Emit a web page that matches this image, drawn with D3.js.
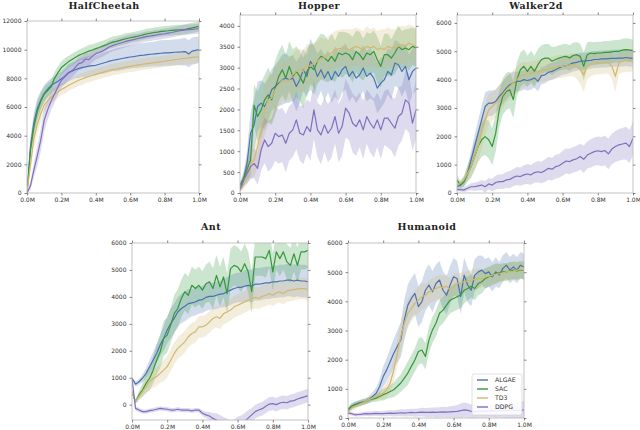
<!DOCTYPE html>
<html>
<head>
<meta charset="utf-8">
<script src="https://cdnjs.cloudflare.com/ajax/libs/d3/7.8.5/d3.min.js"></script>
<style>
  body { margin: 0; background: #fff; }
  .tick text { font-family: "DejaVu Sans", sans-serif; font-size: 6px; fill: #333; }
  .tick line { stroke: #555; stroke-width: 0.7; }
</style>
</head>
<body>
<svg id="chart"></svg>
<script>

// environment steps (in millions)
var steps = [0, 0.02, 0.04, 0.06, 0.08, 0.1, 0.12, 0.14, 0.16, 0.18, 0.2, 0.22, 0.24, 0.26, 0.28, 0.3, 0.32, 0.34, 0.36, 0.38,
             0.4, 0.42, 0.44, 0.46, 0.48, 0.5, 0.52, 0.54, 0.56, 0.58, 0.6, 0.62, 0.64, 0.66, 0.68, 0.7, 0.72, 0.74, 0.76, 0.78,
             0.8, 0.82, 0.84, 0.86, 0.88, 0.9, 0.92, 0.94, 0.96, 0.98, 1.0];
var xTicks = [0, 0.2, 0.4, 0.6, 0.8, 1.0];
var algorithms = ["ALGAE", "SAC", "TD3", "DDPG"];
var colors = ["#4c72b0", "#34983a", "#d1b86f", "#7f6fbd"];

// HalfCheetah
var hcAlgae = [0, 3200, 4900, 5900, 6470, 6940, 7250, 7500, 7650, 7800, 7980, 8150, 8400, 8500, 8600, 8680, 8750, 8800, 8850, 8880,
               8910, 8980, 9050, 9120, 9200, 9260, 9300, 9350, 9400, 9450, 9490, 9520, 9560, 9600, 9620, 9650, 9680, 9700, 9730, 9750,
               9770, 9780, 9800, 9820, 9830, 9840, 9870, 9700, 9900, 9950, 10000];
var hcSac = [0, 3000, 4600, 5700, 6400, 6900, 7150, 7400, 8000, 8400, 8750, 8950, 9150, 9300, 9450, 9600, 9700, 9800, 9900, 9980,
             10070, 10150, 10250, 10330, 10450, 10530, 10580, 10650, 10720, 10780, 10830, 10880, 10930, 10990, 11050, 11110, 11150, 11200, 11230, 11270,
             11300, 11320, 11350, 11370, 11380, 11390, 11420, 11470, 11520, 11570, 11620];
var hcTd3 = [0, 2000, 3800, 4800, 5550, 6130, 6450, 6700, 6880, 7050, 7220, 7350, 7500, 7620, 7750, 7870, 7950, 8050, 8130, 8200,
             8280, 8350, 8420, 8480, 8550, 8610, 8650, 8700, 8750, 8800, 8840, 8880, 8920, 8960, 9000, 9030, 9060, 9100, 9130, 9160,
             9190, 9230, 9260, 9300, 9330, 9370, 9400, 9430, 9460, 9480, 9490];
var hcDdpg = [0, 500, 1600, 2600, 3690, 5080, 5800, 6400, 6900, 7400, 7870, 8100, 8350, 8500, 8750, 9030, 9100, 9350, 9300, 9550,
              9720, 9800, 9900, 10050, 10200, 10300, 10380, 10450, 10520, 10600, 10650, 10700, 10760, 10820, 10880, 10930, 10960, 11000, 11040, 11080,
              11110, 11160, 11200, 11250, 11300, 11350, 11380, 11400, 11420, 11440, 11460];
var hcAlgaeSd = [0, 700, 700, 700, 650, 600, 550, 500, 500, 500, 500, 550, 600, 600, 600, 650, 650, 700, 700, 700,
                 700, 700, 750, 750, 750, 750, 800, 800, 800, 800, 800, 800, 850, 850, 850, 850, 850, 850, 900, 900,
                 900, 900, 900, 900, 900, 950, 950, 950, 950, 950, 900];
var hcSacSd = [0, 600, 700, 700, 600, 500, 500, 450, 450, 450, 450, 450, 400, 420, 400, 380, 400, 400, 420, 400,
               400, 400, 380, 380, 380, 400, 380, 380, 380, 380, 350, 350, 360, 350, 350, 360, 350, 350, 350, 350,
               350, 350, 360, 350, 350, 350, 350, 350, 350, 350, 350];
var hcTd3Sd = [0, 600, 700, 650, 600, 500, 450, 450, 450, 400, 400, 400, 400, 400, 400, 400, 420, 400, 400, 400,
               400, 400, 400, 400, 420, 400, 400, 400, 400, 400, 400, 420, 400, 400, 400, 400, 400, 400, 400, 400,
               400, 400, 400, 420, 400, 400, 450, 450, 450, 450, 450];
var hcDdpgSd = [0, 300, 500, 700, 800, 800, 700, 650, 600, 550, 500, 500, 500, 450, 450, 450, 450, 450, 450, 450,
                400, 400, 400, 400, 400, 400, 400, 400, 400, 400, 400, 400, 350, 350, 350, 350, 350, 350, 350, 350,
                350, 350, 350, 350, 350, 350, 350, 350, 350, 350, 350];

// Hopper
var hopAlgae = [110, 310, 710, 1430, 1630, 2070, 2150, 2070, 2230, 2470, 2550, 2630, 2710, 2750, 2710, 2750, 2550, 2710, 2950, 2790,
                3150, 3030, 2790, 2950, 2750, 2910, 2710, 2910, 2790, 2950, 3030, 2790, 2910, 2750, 2830, 2990, 2790, 2870, 2750, 2510,
                2630, 2710, 2910, 2830, 3110, 3070, 2910, 3030, 2710, 2910, 2990];
var hopSac = [190, 350, 550, 790, 2100, 1830, 1990, 2230, 2350, 2230, 2510, 2790, 2950, 2750, 3030, 2790, 2910, 2790, 2630, 2910,
              3030, 2950, 3150, 3270, 3230, 3150, 3270, 3150, 3350, 3310, 3350, 3310, 3190, 3390, 3310, 3190, 3350, 3310, 3390, 3190,
              3030, 3310, 3310, 3230, 3350, 3510, 3430, 3470, 3430, 3510, 3470];
var hopTd3 = [70, 190, 470, 710, 790, 1110, 1510, 1990, 2230, 2270, 2470, 2590, 2710, 2670, 2710, 2830, 2910, 2950, 2910, 3070,
              3030, 3110, 3150, 3230, 3230, 3310, 3350, 3430, 3450, 3470, 3470, 3430, 3470, 3510, 3470, 3430, 3510, 3470, 3510, 3430,
              3470, 3430, 3510, 3470, 3470, 3510, 3550, 3510, 3590, 3550, 3510];
var hopDdpg = [70, 310, 470, 630, 710, 590, 1030, 1270, 1110, 1190, 1430, 1350, 1390, 1190, 1430, 1510, 1750, 1430, 1390, 1590,
               1470, 1990, 1510, 1390, 1630, 1430, 1550, 1830, 1430, 1590, 2030, 1910, 1670, 1590, 1750, 1510, 1830, 1670, 1550, 1750,
               1510, 1790, 1790, 1670, 1550, 1830, 1910, 2230, 2150, 1670, 1990];
var hopAlgaeSd = [60, 150, 300, 500, 600, 600, 550, 550, 500, 500, 500, 550, 600, 600, 550, 550, 600, 550, 500, 500,
                  550, 500, 550, 500, 550, 500, 550, 600, 600, 550, 550, 600, 600, 600, 550, 550, 600, 600, 550, 600,
                  600, 550, 550, 600, 550, 550, 600, 550, 600, 550, 550];
var hopSacSd = [60, 150, 250, 400, 500, 600, 650, 600, 650, 600, 650, 600, 600, 550, 600, 650, 600, 600, 600, 550,
                550, 600, 550, 550, 550, 500, 550, 500, 500, 550, 500, 500, 550, 500, 550, 500, 500, 500, 500, 550,
                500, 500, 500, 450, 500, 500, 450, 450, 500, 450, 450];
var hopTd3Sd = [40, 120, 250, 350, 400, 500, 550, 600, 600, 550, 550, 550, 500, 500, 500, 500, 500, 500, 500, 500,
                500, 500, 500, 500, 450, 450, 450, 450, 450, 450, 450, 480, 450, 450, 450, 450, 480, 450, 450, 450,
                450, 480, 450, 450, 450, 450, 450, 480, 450, 450, 450];
var hopDdpgSd = [40, 150, 250, 300, 350, 400, 500, 550, 600, 600, 650, 650, 650, 700, 650, 650, 700, 650, 700, 650,
                 700, 700, 650, 700, 650, 700, 700, 650, 700, 700, 700, 650, 700, 700, 650, 700, 650, 700, 700, 650,
                 700, 650, 700, 650, 700, 700, 650, 700, 700, 650, 700];

// Walker2d
var wlkAlgae = [220, 280, 400, 700, 1170, 1640, 2110, 2580, 3050, 3170, 3170, 3230, 3410, 3530, 3700, 3820, 3880, 3940, 3940, 4000,
                3970, 4000, 4060, 3940, 4140, 4170, 4260, 4290, 4350, 4410, 4470, 4490, 4530, 4590, 4610, 4650, 4650, 4670, 4680, 4710,
                4710, 4730, 4730, 4740, 4750, 4750, 4760, 4760, 4780, 4760, 4760];
var wlkSac = [460, 280, 400, 700, 930, 1290, 1640, 1880, 1990, 1880, 1640, 2110, 2940, 3410, 3580, 3640, 3290, 4000, 4350, 4470,
              4290, 4470, 4290, 4530, 4710, 4760, 4760, 4650, 4710, 4760, 4800, 4820, 4760, 4850, 4880, 4820, 4470, 4880, 4940, 4920,
              4940, 4940, 4960, 4960, 4980, 5000, 5000, 5040, 5060, 5040, 5020];
var wlkTd3 = [280, 340, 460, 700, 930, 1290, 1640, 2110, 2580, 2940, 3050, 3170, 3290, 3470, 3640, 3760, 3880, 4000, 4120, 4170,
              4210, 4230, 4260, 4290, 4320, 4350, 4370, 4410, 4430, 4470, 4470, 4490, 4520, 4530, 4470, 4350, 4170, 4470, 4530, 4560,
              4590, 4590, 4610, 4610, 4470, 4120, 4590, 4650, 4680, 4650, 4710];
var wlkDdpg = [130, 110, 110, 170, 220, 220, 250, 280, 220, 320, 280, 370, 400, 400, 460, 480, 550, 600, 580, 640,
               670, 640, 720, 750, 720, 790, 870, 840, 930, 960, 1050, 1130, 1110, 1170, 1210, 1290, 1190, 1340, 1400, 1460,
               1490, 1460, 1500, 1380, 1550, 1640, 1700, 1730, 1760, 1640, 1930];
var wlkAlgaeSd = [100, 100, 150, 200, 300, 400, 450, 500, 500, 450, 450, 400, 400, 400, 400, 400, 400, 350, 350, 350,
                  350, 350, 350, 350, 300, 300, 300, 300, 300, 300, 300, 300, 300, 300, 300, 300, 300, 300, 300, 300,
                  300, 300, 300, 300, 300, 300, 300, 300, 300, 300, 300];
var wlkSacSd = [150, 150, 200, 300, 400, 500, 550, 600, 650, 650, 650, 650, 650, 650, 650, 650, 650, 600, 600, 600,
                550, 550, 550, 550, 500, 500, 500, 500, 450, 450, 450, 450, 450, 450, 450, 450, 500, 450, 400, 400,
                400, 400, 400, 400, 400, 400, 400, 400, 400, 400, 400];
var wlkTd3Sd = [100, 100, 150, 250, 350, 450, 500, 550, 550, 550, 500, 500, 500, 500, 450, 450, 450, 450, 450, 450,
                400, 400, 400, 400, 400, 400, 400, 400, 400, 400, 400, 400, 400, 400, 450, 500, 600, 450, 400, 400,
                400, 400, 400, 400, 450, 550, 400, 400, 400, 400, 400];
var wlkDdpgSd = [60, 60, 80, 100, 120, 150, 150, 180, 200, 200, 220, 250, 250, 260, 280, 300, 300, 320, 320, 340,
                 350, 350, 360, 380, 380, 400, 400, 400, 420, 420, 440, 440, 450, 450, 460, 460, 480, 480, 500, 500,
                 500, 520, 520, 540, 540, 550, 560, 560, 580, 580, 600];

// Ant
var antAlgae = [980, 760, 850, 980, 1160, 1410, 1650, 1900, 2210, 2460, 2770, 3010, 3200, 3440, 3570, 3650, 3750, 3780, 3810, 3880,
                3900, 3980, 4020, 4020, 4060, 4100, 4120, 4190, 4250, 4310, 4350, 4350, 4400, 4430, 4400, 4470, 4470, 4490, 4520, 4520,
                4560, 4560, 4590, 4590, 4620, 4620, 4590, 4620, 4590, 4590, 4560];
var antSac = [480, 110, 360, 540, 790, 980, 1280, 1650, 1960, 2460, 2580, 2950, 3380, 3570, 3940, 4190, 4060, 4430, 4310, 4430,
              4250, 4490, 4560, 4310, 4800, 4370, 4740, 4120, 5050, 5170, 5110, 4930, 5230, 4930, 4190, 5480, 5480, 5480, 5420, 5730,
              4930, 5670, 5420, 5670, 5300, 5170, 5600, 5170, 5670, 5670, 5730];
var antTd3 = [480, 110, 300, 480, 670, 850, 980, 1040, 1160, 1280, 1410, 1650, 1900, 2090, 2210, 2330, 2520, 2640, 2700, 2890,
              2890, 2950, 3070, 3200, 3260, 3200, 3380, 3440, 3510, 3630, 3690, 3750, 3810, 3880, 3940, 3980, 3940, 4020, 4060, 4120,
              4060, 4150, 4190, 4120, 4220, 4250, 4270, 4300, 4310, 4310, 4270];
var antDdpg = [980, -140, -200, -260, -260, -220, -200, -170, -140, -160, -170, -200, -200, -170, -200, -200, -200, -230, -200, -200,
               -320, -380, -420, -510, -570, -680, -760, -820, -880, -850, -750, -700, -620, -500, -380, -260, -200, -150, -60, 20,
               40, 0, 60, 90, 70, 130, 150, 210, 250, 290, 340];
var antAlgaeSd = [50, 100, 100, 150, 200, 250, 300, 350, 400, 450, 500, 550, 550, 550, 550, 550, 550, 500, 500, 500,
                  500, 500, 500, 500, 500, 500, 500, 550, 550, 550, 550, 550, 600, 600, 600, 600, 600, 600, 600, 600,
                  600, 600, 600, 600, 600, 600, 600, 600, 600, 600, 600];
var antSacSd = [50, 80, 150, 250, 350, 450, 500, 550, 600, 650, 650, 650, 700, 700, 700, 700, 700, 700, 700, 700,
                700, 700, 750, 750, 750, 750, 750, 750, 750, 750, 750, 750, 750, 750, 800, 700, 700, 700, 700, 650,
                700, 650, 650, 650, 650, 650, 650, 650, 650, 650, 650];
var antTd3Sd = [50, 80, 150, 200, 250, 300, 350, 350, 350, 400, 400, 400, 400, 400, 400, 400, 400, 400, 400, 400,
                400, 400, 400, 400, 400, 400, 400, 400, 400, 400, 400, 400, 400, 400, 400, 400, 400, 400, 400, 400,
                400, 400, 400, 400, 400, 400, 400, 400, 400, 400, 400];
var antDdpgSd = [50, 80, 80, 80, 80, 80, 80, 80, 80, 80, 80, 80, 80, 80, 80, 80, 80, 80, 80, 80,
                 100, 120, 150, 200, 250, 300, 300, 300, 300, 300, 300, 300, 300, 300, 250, 250, 250, 250, 250, 250,
                 250, 250, 250, 250, 250, 250, 250, 250, 250, 250, 250];

// Humanoid
var humAlgae = [280, 400, 460, 510, 540, 570, 630, 740, 850, 1080, 1420, 1650, 1940, 2220, 2450, 2680, 3360, 3870, 4100, 4270,
                3820, 3990, 4380, 4560, 4330, 4610, 4730, 4380, 4210, 4560, 4840, 4780, 4160, 4900, 4560, 4380, 4900, 5010, 5070, 4950,
                5010, 4840, 5010, 4900, 5130, 5240, 5070, 5180, 5070, 5240, 5180];
var humSac = [280, 400, 460, 490, 540, 570, 630, 650, 680, 740, 800, 850, 910, 970, 1080, 1200, 1370, 1540, 1770, 1990,
              2280, 2330, 2110, 2680, 3020, 3250, 3590, 3700, 3870, 4040, 4100, 4160, 4210, 4380, 4440, 4520, 4440, 4610, 4670, 4780,
              4840, 4900, 4950, 4980, 5010, 5010, 5040, 5070, 5040, 5070, 5070];
var humTd3 = [190, 340, 400, 460, 510, 570, 630, 680, 740, 800, 850, 970, 1200, 1650, 2220, 2790, 3250, 3590, 3760, 3930,
              4040, 4160, 4210, 4330, 4380, 4440, 4500, 4470, 4520, 4380, 4560, 4610, 4640, 4670, 4700, 4730, 4750, 4780, 4780, 4840,
              4860, 4900, 4930, 4950, 4980, 5010, 5030, 5040, 5070, 5090, 5090];
var humDdpg = [170, 150, 110, 120, 130, 150, 140, 150, 160, 150, 150, 160, 170, 160, 170, 180, 170, 180, 190, 180,
               190, 200, 190, 190, 200, 190, 200, 210, 200, 210, 220, 230, 250, 280, 260, 230, 220, 230, 240, 230,
               240, 250, 240, 250, 260, 250, 260, 270, 260, 270, 280];
var humAlgaeSd = [80, 100, 100, 100, 100, 100, 120, 150, 200, 250, 350, 400, 450, 500, 550, 600, 700, 700, 700, 700,
                  700, 700, 700, 700, 700, 650, 650, 650, 650, 650, 650, 600, 600, 600, 600, 550, 550, 550, 500, 500,
                  500, 500, 500, 450, 450, 450, 450, 450, 450, 450, 450];
var humSacSd = [80, 100, 100, 100, 100, 100, 100, 100, 120, 150, 200, 200, 220, 250, 280, 300, 350, 400, 400, 400,
                450, 450, 450, 450, 450, 450, 450, 450, 450, 450, 450, 450, 450, 450, 400, 400, 400, 400, 400, 350,
                350, 350, 350, 300, 300, 300, 300, 300, 300, 300, 300];
var humTd3Sd = [80, 100, 100, 100, 100, 100, 100, 100, 120, 150, 200, 250, 300, 400, 450, 500, 500, 500, 450, 450,
                450, 450, 400, 400, 400, 400, 400, 400, 400, 400, 400, 350, 350, 350, 350, 350, 350, 350, 300, 300,
                300, 300, 300, 300, 300, 300, 300, 300, 300, 300, 300];
var humDdpgSd = [50, 60, 60, 60, 70, 70, 80, 80, 80, 90, 90, 100, 100, 110, 110, 120, 120, 130, 130, 140,
                 140, 150, 150, 160, 160, 170, 170, 180, 180, 190, 200, 220, 250, 250, 250, 230, 220, 220, 220, 220,
                 220, 220, 230, 230, 240, 250, 260, 270, 280, 290, 300];

var hcTicks = [0, 2000, 4000, 6000, 8000, 10000, 12000];
var hopTicks = [0, 500, 1000, 1500, 2000, 2500, 3000, 3500, 4000];
var thousandTicks = [0, 1000, 2000, 3000, 4000, 5000, 6000];


var panels = [
    {title: "HalfCheetah", left: 27, top: 21, width: 172, height: 172, ymin: 0, ymax: 12000, yticks: hcTicks,
     series: [hcAlgae, hcSac, hcTd3, hcDdpg], spreads: [hcAlgaeSd, hcSacSd, hcTd3Sd, hcDdpgSd], titleY: 9},
    {title: "Hopper", left: 240, top: 15, width: 176, height: 178, ymin: 0, ymax: 4260, yticks: hopTicks,
     series: [hopAlgae, hopSac, hopTd3, hopDdpg], spreads: [hopAlgaeSd, hopSacSd, hopTd3Sd, hopDdpgSd], titleY: 9},
    {title: "Walker2d", left: 457, top: 15, width: 176, height: 178, ymin: 0, ymax: 6280, yticks: thousandTicks,
     series: [wlkAlgae, wlkSac, wlkTd3, wlkDdpg], spreads: [wlkAlgaeSd, wlkSacSd, wlkTd3Sd, wlkDdpgSd], titleY: 9},
    {title: "Ant", left: 132, top: 243, width: 176, height: 177, ymin: -570, ymax: 6000, yticks: thousandTicks,
     series: [antAlgae, antSac, antTd3, antDdpg], spreads: [antAlgaeSd, antSacSd, antTd3Sd, antDdpgSd], titleY: 230},
    {title: "Humanoid", left: 348, top: 243, width: 176, height: 175, ymin: 0, ymax: 6000, yticks: thousandTicks,
     series: [humAlgae, humSac, humTd3, humDdpg], spreads: [humAlgaeSd, humSacSd, humTd3Sd, humDdpgSd], titleY: 230, legend: true}
];

var svg = d3.select("#chart")
    .attr("width", 640)
    .attr("height", 430)
    .style("display", "block");

svg.append("rect").attr("width", 640).attr("height", 430).attr("fill", "#fff");

panels.forEach(function (p, k) {
    var x = d3.scaleLinear().domain([0, 1]).range([p.left, p.left + p.width]);
    var y = d3.scaleLinear().domain([p.ymin, p.ymax]).range([p.top + p.height, p.top]);

    var g = svg.append("g").attr("class", "panel");

    g.append("clipPath")
        .attr("id", "clip" + k)
        .append("rect")
        .attr("x", p.left)
        .attr("y", p.top)
        .attr("width", p.width)
        .attr("height", p.height);

    var plot = g.append("g").attr("clip-path", "url(#clip" + k + ")");

    // shaded bands first
    p.series.forEach(function (vals, j) {
        var sd = p.spreads[j];
        var area = d3.area()
            .x(function (d, i) { return x(steps[i]); })
            .y0(function (d, i) { return y(d - sd[i]); })
            .y1(function (d, i) { return y(d + sd[i]); });
        plot.append("path")
            .datum(vals)
            .attr("d", area)
            .attr("fill", colors[j])
            .attr("fill-opacity", 0.25)
            .attr("stroke", "none");
    });

    // mean curves
    p.series.forEach(function (vals, j) {
        var line = d3.line()
            .x(function (d, i) { return x(steps[i]); })
            .y(function (d) { return y(d); });
        plot.append("path")
            .datum(vals)
            .attr("d", line)
            .attr("fill", "none")
            .attr("stroke", colors[j])
            .attr("stroke-width", 1.2)
            .attr("stroke-linejoin", "round");
    });

    // frame
    g.append("rect")
        .attr("x", p.left)
        .attr("y", p.top)
        .attr("width", p.width)
        .attr("height", p.height)
        .attr("fill", "none")
        .attr("stroke", "#b5b5b5")
        .attr("stroke-width", 0.8);

    var fmtX = function (v) { return d3.format(".1f")(v) + "M"; };

    var bottom = g.append("g")
        .attr("transform", "translate(0," + (p.top + p.height) + ")")
        .call(d3.axisBottom(x).tickValues(xTicks).tickFormat(fmtX).tickSize(2.5).tickSizeOuter(0).tickPadding(2.5));
    var top = g.append("g")
        .attr("transform", "translate(0," + p.top + ")")
        .call(d3.axisTop(x).tickValues(xTicks).tickFormat("").tickSize(2.5).tickSizeOuter(0));
    var left = g.append("g")
        .attr("transform", "translate(" + p.left + ",0)")
        .call(d3.axisLeft(y).tickValues(p.yticks).tickFormat(d3.format("d")).tickSize(2.5).tickSizeOuter(0).tickPadding(3));
    var right = g.append("g")
        .attr("transform", "translate(" + (p.left + p.width) + ",0)")
        .call(d3.axisRight(y).tickValues(p.yticks).tickFormat("").tickSize(2.5).tickSizeOuter(0));

    [bottom, top, left, right].forEach(function (a) {
        a.select(".domain").remove();
        a.attr("font-family", null).attr("font-size", null);
    });

    g.append("text")
        .attr("x", p.left + p.width / 2 - 9)
        .attr("y", p.titleY)
        .attr("text-anchor", "middle")
        .attr("font-family", "DejaVu Serif, serif")
        .attr("font-weight", "bold")
        .attr("font-size", "9.5px")
        .attr("letter-spacing", "0.4px")
        .attr("fill", "#222")
        .text(p.title);

    if (p.legend) {
        var lg = g.append("g").attr("class", "legend");
        lg.append("rect")
            .attr("x", 472)
            .attr("y", 374)
            .attr("width", 50)
            .attr("height", 41)
            .attr("rx", 2)
            .attr("fill", "#fff")
            .attr("fill-opacity", 0.85)
            .attr("stroke", "#cfcfcf")
            .attr("stroke-width", 0.6);
        algorithms.forEach(function (name, j) {
            var ly = 380 + j * 9;
            lg.append("line")
                .attr("x1", 477).attr("x2", 488)
                .attr("y1", ly).attr("y2", ly)
                .attr("stroke", colors[j])
                .attr("stroke-width", 1.4);
            lg.append("text")
                .attr("x", 495)
                .attr("y", ly + 2.2)
                .attr("font-family", "DejaVu Sans, sans-serif")
                .attr("font-size", "6.2px")
                .attr("fill", "#333")
                .text(name);
        });
    }
});

</script>
</body>
</html>
